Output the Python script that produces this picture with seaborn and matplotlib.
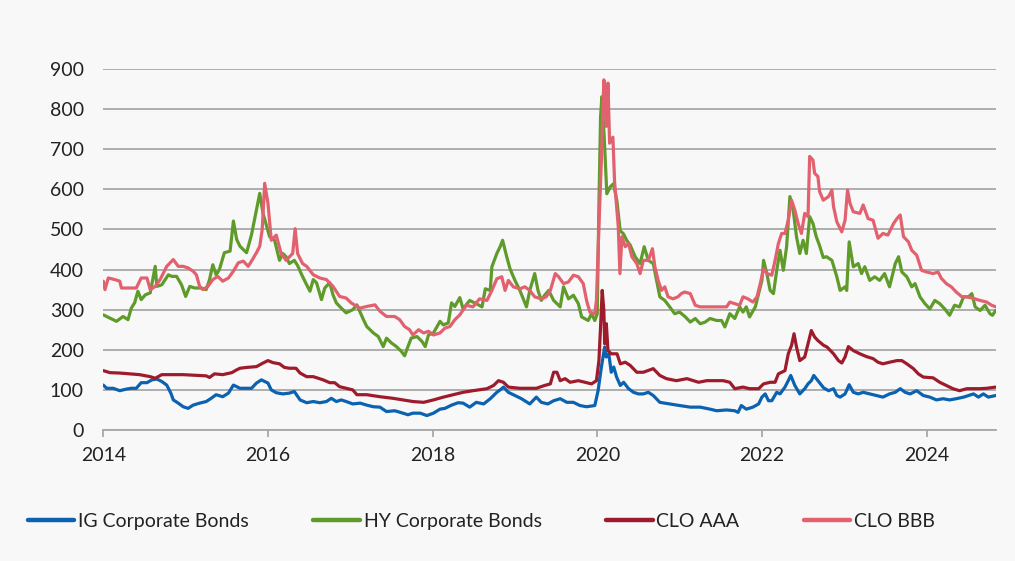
"""spreads of corporate bonds and CLO tranches, 2014-2024"""

import pandas as pd
import matplotlib
matplotlib.use("Agg")
import matplotlib.pyplot as plt
import seaborn as sns

# series names and colours
names = ["IG Corporate Bonds", "HY Corporate Bonds", "CLO AAA", "CLO BBB"]
colors = ["#0b62b0", "#5f9b2a", "#9e1b2c", "#e2616f"]

# IG corporate bonds (decimal year, bp)
ig_years = [2014.00, 2014.04, 2014.12, 2014.20, 2014.28, 2014.34, 2014.40, 2014.46, 2014.53, 2014.59,
            2014.65, 2014.71, 2014.77, 2014.82, 2014.85, 2014.91, 2014.97, 2015.03, 2015.09, 2015.17,
            2015.25, 2015.31, 2015.37, 2015.45, 2015.52, 2015.58, 2015.66, 2015.74, 2015.80, 2015.86,
            2015.92, 2015.96, 2016.00, 2016.04, 2016.10, 2016.18, 2016.26, 2016.32, 2016.39, 2016.47,
            2016.55, 2016.63, 2016.71, 2016.77, 2016.83, 2016.89, 2016.95, 2017.03, 2017.12, 2017.20,
            2017.28, 2017.36, 2017.44, 2017.54, 2017.64, 2017.70, 2017.76, 2017.85, 2017.93, 2018.01,
            2018.09, 2018.15, 2018.23, 2018.31, 2018.37, 2018.45, 2018.53, 2018.62, 2018.70, 2018.78,
            2018.84, 2018.86, 2018.92, 2019.00, 2019.08, 2019.18, 2019.26, 2019.32, 2019.40, 2019.47,
            2019.55, 2019.63, 2019.71, 2019.79, 2019.87, 2019.97, 2020.01, 2020.05, 2020.09, 2020.11,
            2020.14, 2020.17, 2020.20, 2020.235, 2020.28, 2020.32, 2020.38, 2020.44, 2020.50, 2020.56,
            2020.62, 2020.68, 2020.76, 2020.88, 2021.00, 2021.13, 2021.25, 2021.37, 2021.45, 2021.57,
            2021.67, 2021.71, 2021.75, 2021.81, 2021.89, 2021.96, 2022.00, 2022.04, 2022.08, 2022.12,
            2022.18, 2022.22, 2022.28, 2022.32, 2022.35, 2022.40, 2022.46, 2022.52, 2022.56, 2022.60,
            2022.63, 2022.68, 2022.75, 2022.81, 2022.87, 2022.91, 2022.95, 2023.01, 2023.06, 2023.11,
            2023.17, 2023.23, 2023.31, 2023.39, 2023.47, 2023.55, 2023.62, 2023.68, 2023.74, 2023.80,
            2023.88, 2023.96, 2024.04, 2024.12, 2024.20, 2024.28, 2024.36, 2024.45, 2024.51, 2024.57,
            2024.63, 2024.69, 2024.75, 2024.84]
ig_vals = [112, 104, 104, 98, 102, 104, 104, 118, 118, 125,
           127, 121, 112, 92, 75, 67, 58, 54, 62, 67,
           71, 79, 88, 83, 92, 112, 104, 104, 104, 117,
           125, 121, 117, 100, 93, 90, 92, 96, 75, 68,
           71, 68, 71, 79, 71, 75, 71, 65, 67, 62,
           58, 57, 46, 48, 42, 38, 42, 42, 36, 42,
           52, 54, 62, 68, 67, 57, 69, 65, 78, 94,
           103, 107, 94, 86, 78, 65, 82, 69, 65, 73,
           78, 69, 69, 61, 58, 61, 98, 157, 207, 182,
           190, 144, 157, 132, 111, 119, 103, 94, 90, 90,
           94, 86, 69, 65, 61, 57, 57, 52, 48, 50,
           48, 44, 61, 52, 57, 65, 82, 90, 73, 73,
           94, 90, 107, 123, 136, 111, 90, 103, 115, 123,
           136, 123, 105, 98, 103, 86, 82, 90, 113, 94,
           90, 94, 90, 86, 82, 90, 94, 103, 94, 90,
           98, 86, 82, 75, 78, 75, 78, 82, 86, 90,
           82, 90, 82, 86]

# HY corporate bonds
hy_years = [2014.00, 2014.12, 2014.16, 2014.24, 2014.30, 2014.34, 2014.38, 2014.42, 2014.46, 2014.51,
            2014.57, 2014.63, 2014.65, 2014.71, 2014.79, 2014.83, 2014.89, 2014.95, 2015.00, 2015.05,
            2015.11, 2015.19, 2015.25, 2015.29, 2015.33, 2015.37, 2015.41, 2015.47, 2015.54, 2015.58,
            2015.62, 2015.66, 2015.74, 2015.80, 2015.90, 2015.94, 2016.02, 2016.08, 2016.14, 2016.18,
            2016.22, 2016.26, 2016.32, 2016.36, 2016.41, 2016.47, 2016.51, 2016.55, 2016.59, 2016.65,
            2016.69, 2016.75, 2016.79, 2016.83, 2016.89, 2016.95, 2017.03, 2017.08, 2017.16, 2017.20,
            2017.28, 2017.34, 2017.40, 2017.44, 2017.50, 2017.56, 2017.62, 2017.66, 2017.70, 2017.74,
            2017.81, 2017.87, 2017.91, 2017.95, 2018.01, 2018.09, 2018.13, 2018.19, 2018.23, 2018.27,
            2018.33, 2018.37, 2018.45, 2018.53, 2018.60, 2018.64, 2018.70, 2018.72, 2018.78, 2018.82,
            2018.85, 2018.90, 2018.94, 2019.00, 2019.06, 2019.14, 2019.18, 2019.24, 2019.28, 2019.32,
            2019.36, 2019.41, 2019.47, 2019.55, 2019.59, 2019.65, 2019.71, 2019.77, 2019.81, 2019.89,
            2019.93, 2019.97, 2020.00, 2020.02, 2020.04, 2020.056, 2020.084, 2020.116, 2020.157, 2020.197,
            2020.238, 2020.278, 2020.318, 2020.36, 2020.40, 2020.46, 2020.52, 2020.57, 2020.62, 2020.68,
            2020.72, 2020.76, 2020.82, 2020.88, 2020.94, 2021.00, 2021.07, 2021.13, 2021.19, 2021.25,
            2021.31, 2021.37, 2021.45, 2021.51, 2021.55, 2021.61, 2021.67, 2021.73, 2021.77, 2021.81,
            2021.85, 2021.92, 2021.96, 2022.00, 2022.02, 2022.06, 2022.10, 2022.14, 2022.18, 2022.22,
            2022.26, 2022.30, 2022.34, 2022.38, 2022.42, 2022.46, 2022.50, 2022.54, 2022.58, 2022.62,
            2022.66, 2022.70, 2022.745, 2022.785, 2022.85, 2022.91, 2022.95, 2023.01, 2023.03, 2023.06,
            2023.11, 2023.17, 2023.21, 2023.25, 2023.31, 2023.37, 2023.43, 2023.49, 2023.55, 2023.62,
            2023.66, 2023.70, 2023.76, 2023.82, 2023.86, 2023.92, 2023.98, 2024.04, 2024.10, 2024.16,
            2024.22, 2024.28, 2024.34, 2024.40, 2024.45, 2024.51, 2024.55, 2024.59, 2024.65, 2024.71,
            2024.77, 2024.80, 2024.84]
hy_vals = [287, 275, 271, 283, 275, 304, 317, 346, 325, 337,
           342, 408, 358, 362, 387, 383, 383, 362, 333, 358,
           354, 354, 350, 375, 412, 387, 400, 442, 446, 521,
           475, 458, 442, 487, 590, 540, 482, 473, 423, 440,
           432, 415, 423, 410, 387, 362, 346, 375, 367, 325,
           354, 367, 337, 317, 304, 292, 300, 312, 275, 258,
           242, 233, 208, 229, 217, 208, 196, 185, 208, 229,
           233, 221, 208, 237, 242, 271, 262, 267, 317, 308,
           330, 302, 323, 315, 307, 352, 348, 407, 440, 457,
           473, 432, 402, 373, 348, 307, 348, 390, 348, 323,
           336, 348, 323, 307, 357, 327, 336, 315, 282, 273,
           290, 273, 290, 560, 780, 831, 731, 589, 606, 614,
           572, 497, 489, 472, 461, 432, 415, 457, 423, 415,
           373, 332, 323, 307, 290, 294, 282, 269, 278, 265,
           269, 278, 273, 273, 257, 290, 278, 307, 294, 307,
           282, 307, 340, 373, 423, 390, 348, 340, 398, 448,
           398, 457, 582, 548, 482, 440, 473, 440, 532, 515,
           482, 460, 430, 432, 423, 382, 348, 357, 348, 469,
           407, 415, 390, 407, 373, 382, 373, 390, 357, 415,
           432, 394, 382, 357, 365, 332, 315, 302, 323, 315,
           302, 286, 311, 307, 332, 332, 340, 307, 298, 311,
           290, 286, 298]

# CLO AAA
aaa_years = [2014.00, 2014.08, 2014.20, 2014.32, 2014.44, 2014.57, 2014.63, 2014.71, 2014.97, 2015.25,
             2015.29, 2015.35, 2015.45, 2015.56, 2015.62, 2015.66, 2015.74, 2015.86, 2015.94, 2016.00,
             2016.06, 2016.14, 2016.20, 2016.26, 2016.34, 2016.39, 2016.47, 2016.55, 2016.61, 2016.67,
             2016.75, 2016.81, 2016.87, 2016.95, 2017.03, 2017.08, 2017.20, 2017.36, 2017.52, 2017.64,
             2017.76, 2017.89, 2018.01, 2018.13, 2018.25, 2018.37, 2018.49, 2018.66, 2018.74, 2018.80,
             2018.86, 2018.92, 2019.06, 2019.26, 2019.36, 2019.43, 2019.47, 2019.51, 2019.55, 2019.61,
             2019.67, 2019.77, 2019.85, 2019.93, 2019.99, 2020.02, 2020.04, 2020.06, 2020.08, 2020.09,
             2020.11, 2020.13, 2020.17, 2020.24, 2020.28, 2020.34, 2020.40, 2020.48, 2020.56, 2020.68,
             2020.76, 2020.84, 2020.96, 2021.09, 2021.23, 2021.33, 2021.53, 2021.61, 2021.67, 2021.77,
             2021.85, 2021.96, 2022.02, 2022.10, 2022.16, 2022.20, 2022.28, 2022.32, 2022.36, 2022.39,
             2022.42, 2022.46, 2022.52, 2022.56, 2022.60, 2022.64, 2022.68, 2022.75, 2022.79, 2022.87,
             2022.93, 2022.97, 2023.01, 2023.05, 2023.11, 2023.19, 2023.27, 2023.35, 2023.41, 2023.47,
             2023.55, 2023.64, 2023.70, 2023.76, 2023.84, 2023.90, 2023.96, 2024.08, 2024.16, 2024.24,
             2024.32, 2024.40, 2024.49, 2024.57, 2024.65, 2024.73, 2024.84]
aaa_vals = [148, 143, 142, 140, 138, 133, 129, 138, 138, 135,
            131, 140, 138, 143, 150, 154, 156, 158, 167, 173,
            168, 165, 156, 154, 154, 142, 133, 133, 129, 125,
            118, 118, 108, 104, 100, 88, 88, 83, 79, 75,
            71, 69, 75, 82, 88, 94, 98, 103, 111, 123,
            119, 107, 104, 104, 111, 115, 144, 144, 123, 128,
            119, 123, 119, 115, 123, 173, 257, 348, 298, 215,
            265, 198, 190, 190, 165, 169, 161, 144, 144, 153,
            136, 128, 123, 128, 119, 123, 123, 119, 103, 107,
            103, 103, 115, 119, 119, 140, 148, 190, 211, 240,
            207, 173, 182, 215, 248, 232, 223, 211, 207, 190,
            173, 167, 182, 208, 198, 190, 183, 178, 169, 165,
            169, 173, 173, 165, 153, 140, 132, 130, 119, 111,
            103, 98, 103, 103, 103, 104, 107]

# CLO BBB
bbb_years = [2014.00, 2014.02, 2014.06, 2014.14, 2014.20, 2014.22, 2014.40, 2014.46, 2014.53, 2014.57,
             2014.63, 2014.69, 2014.77, 2014.85, 2014.91, 2014.97, 2015.03, 2015.09, 2015.13, 2015.17,
             2015.21, 2015.27, 2015.33, 2015.39, 2015.45, 2015.52, 2015.58, 2015.64, 2015.70, 2015.76,
             2015.80, 2015.86, 2015.90, 2015.93, 2015.96, 2016.00, 2016.04, 2016.10, 2016.16, 2016.22,
             2016.30, 2016.33, 2016.36, 2016.42, 2016.47, 2016.55, 2016.63, 2016.71, 2016.79, 2016.87,
             2016.95, 2017.01, 2017.08, 2017.12, 2017.20, 2017.30, 2017.36, 2017.44, 2017.54, 2017.60,
             2017.66, 2017.72, 2017.76, 2017.83, 2017.89, 2017.95, 2018.01, 2018.09, 2018.15, 2018.21,
             2018.27, 2018.33, 2018.41, 2018.49, 2018.57, 2018.66, 2018.72, 2018.78, 2018.84, 2018.88,
             2018.92, 2018.98, 2019.06, 2019.12, 2019.18, 2019.24, 2019.32, 2019.38, 2019.43, 2019.49,
             2019.53, 2019.59, 2019.65, 2019.71, 2019.77, 2019.83, 2019.87, 2019.91, 2019.97, 2019.99,
             2020.02, 2020.05, 2020.08, 2020.10, 2020.11, 2020.13, 2020.15, 2020.19, 2020.21, 2020.255,
             2020.275, 2020.30, 2020.34, 2020.38, 2020.42, 2020.48, 2020.52, 2020.56, 2020.62, 2020.67,
             2020.70, 2020.74, 2020.78, 2020.82, 2020.86, 2020.92, 2020.98, 2021.02, 2021.06, 2021.13,
             2021.19, 2021.25, 2021.33, 2021.45, 2021.57, 2021.61, 2021.67, 2021.73, 2021.77, 2021.83,
             2021.89, 2021.94, 2021.98, 2022.02, 2022.06, 2022.12, 2022.16, 2022.20, 2022.24, 2022.28,
             2022.32, 2022.36, 2022.40, 2022.44, 2022.48, 2022.52, 2022.56, 2022.58, 2022.62, 2022.64,
             2022.68, 2022.70, 2022.745, 2022.81, 2022.85, 2022.87, 2022.91, 2022.97, 2023.01, 2023.04,
             2023.07, 2023.11, 2023.19, 2023.23, 2023.29, 2023.35, 2023.41, 2023.47, 2023.53, 2023.60,
             2023.64, 2023.68, 2023.72, 2023.78, 2023.82, 2023.88, 2023.94, 2024.00, 2024.08, 2024.14,
             2024.18, 2024.24, 2024.30, 2024.36, 2024.43, 2024.49, 2024.57, 2024.65, 2024.73, 2024.79,
             2024.84]
bbb_vals = [371, 350, 379, 375, 371, 354, 354, 379, 379, 350,
            358, 375, 408, 425, 408, 408, 404, 396, 387, 358,
            350, 358, 375, 383, 371, 379, 396, 417, 421, 408,
            421, 442, 458, 500, 615, 565, 473, 486, 440, 423,
            440, 502, 440, 415, 408, 387, 379, 375, 358, 333,
            329, 317, 308, 304, 308, 312, 296, 283, 283, 275,
            258, 250, 237, 250, 242, 246, 237, 242, 254, 258,
            275, 287, 311, 307, 327, 323, 348, 377, 382, 348,
            373, 357, 352, 357, 348, 332, 327, 332, 348, 390,
            382, 365, 369, 386, 382, 365, 323, 294, 290, 323,
            507, 673, 873, 840, 757, 865, 715, 730, 620, 507,
            390, 482, 457, 465, 432, 415, 390, 423, 423, 452,
            407, 373, 348, 357, 332, 327, 332, 340, 344, 340,
            311, 307, 307, 307, 307, 319, 315, 311, 332, 327,
            319, 332, 365, 402, 390, 386, 423, 465, 490, 490,
            523, 573, 548, 515, 490, 540, 532, 682, 673, 640,
            632, 595, 573, 582, 598, 557, 519, 494, 523, 598,
            565, 544, 540, 561, 527, 523, 478, 490, 486, 515,
            527, 536, 482, 469, 448, 436, 398, 394, 390, 394,
            378, 365, 357, 344, 332, 332, 328, 323, 319, 311,
            307]

year_lists = [ig_years, hy_years, aaa_years, bbb_years]
value_lists = [ig_vals, hy_vals, aaa_vals, bbb_vals]

frames = []
for name, yrs, vals in zip(names, year_lists, value_lists):
    frames.append(pd.DataFrame({"Year": yrs, "Spread": vals, "Series": name}))
df = pd.concat(frames, ignore_index=True)

bg = "#f8f8f8"
grid_grey = "#a8a8a8"
text_col = "#222222"

sns.set_theme(style="white", rc={"axes.facecolor": bg, "figure.facecolor": bg})
plt.rcParams["font.family"] = ["Lato", "DejaVu Sans"]

fig = plt.figure(figsize=(10.15, 5.61), dpi=100)
ax = fig.add_axes([0.1018, 0.2335, 0.8792, 0.6435])

sns.lineplot(data=df, x="Year", y="Spread", hue="Series", hue_order=names,
             palette=colors, estimator=None, linewidth=2.3, legend=False, ax=ax)

ax.set_xlim(2014, 2024.84)
ax.set_ylim(0, 900)
ax.set_xticks(range(2014, 2025, 2))
ax.set_yticks(range(0, 901, 100))
ax.set_xlabel("")
ax.set_ylabel("")

ax.grid(axis="y", color=grid_grey, linewidth=1.3)
ax.grid(axis="x", visible=False)
ax.set_axisbelow(True)
for side in ["left", "top", "right"]:
    ax.spines[side].set_visible(False)
ax.spines["bottom"].set_color(grid_grey)
ax.spines["bottom"].set_linewidth(1.3)

ax.tick_params(axis="x", direction="out", length=5, width=1.3, color=grid_grey,
               labelsize=14, labelcolor=text_col, pad=7, bottom=True)
ax.tick_params(axis="y", length=0, labelsize=14, labelcolor=text_col, pad=14)

leg = fig.legend(handles=ax.lines[:4], labels=names, loc="center left",
                 bbox_to_anchor=(0.010, 0.071), ncol=4, frameon=False,
                 fontsize=14, handlelength=2.4, handletextpad=0.2,
                 columnspacing=3.3, labelcolor=text_col)
for line in leg.get_lines():
    line.set_linewidth(3.2)

fig.savefig("out.png", dpi=100, facecolor=bg)
plt.close(fig)
